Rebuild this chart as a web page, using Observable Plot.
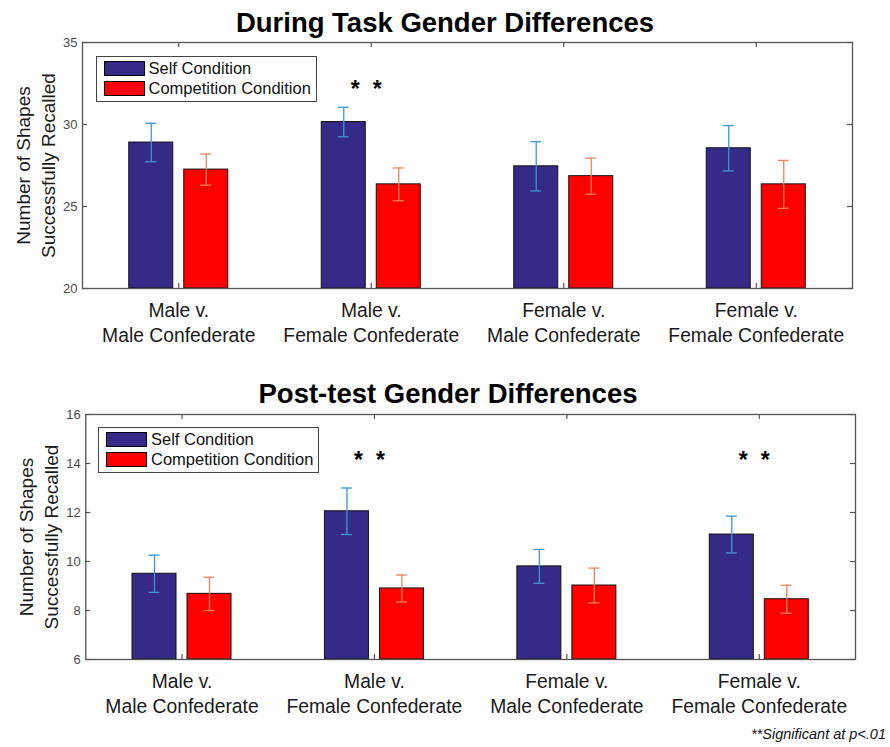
<!DOCTYPE html>
<html><head><meta charset="utf-8">
<script src="https://cdn.jsdelivr.net/npm/d3@7"></script>
<script src="https://cdn.jsdelivr.net/npm/@observablehq/plot@0.6"></script>
<style>
body{margin:0;background:#fff;font-family:"Liberation Sans",Arial,Helvetica,sans-serif;}
#wrap{position:relative;width:890px;height:747px;overflow:hidden;background:#fff}
.panel{position:absolute;left:0;z-index:1}
.title{position:absolute;left:0;width:890px;text-align:center;font-weight:bold;font-size:27.5px;line-height:1;color:#000;white-space:nowrap;z-index:3}
.legend{position:absolute;width:221px;height:46px;border:1px solid #444;background:#fff;box-sizing:border-box;z-index:3}
.item{position:absolute;left:7px;height:15px;font-size:16.5px;line-height:15px;white-space:nowrap;color:#111}
.sw{position:absolute;left:0;top:0;width:41px;height:15px;box-sizing:border-box;border:1px solid #000}
.lab{position:absolute;left:45px;top:0}
.note{position:absolute;right:4px;top:727px;font-style:italic;font-size:14.5px;line-height:1;color:#111;z-index:3}
</style></head>
<body>
<div id="wrap">
  <div id="p1" class="panel" style="top:0px"></div>
  <div id="p2" class="panel" style="top:370px"></div>
  <div class="title" style="top:8.5px;">During Task Gender Differences</div>
  <div class="title" style="top:379.5px;left:3px;">Post-test Gender Differences</div>
  <div class="legend" style="left:95.5px;top:55.5px;">
    <div class="item" style="top:4px;"><div class="sw" id="sw1a"></div><span class="lab" id="l1a"></span></div>
    <div class="item" style="top:24.5px;"><div class="sw" id="sw1b"></div><span class="lab" id="l1b"></span></div>
  </div>
  <div class="legend" style="left:98px;top:426.5px;">
    <div class="item" style="top:4px;"><div class="sw" id="sw2a"></div><span class="lab" id="l2a"></span></div>
    <div class="item" style="top:24.5px;"><div class="sw" id="sw2b"></div><span class="lab" id="l2b"></span></div>
  </div>
  <div class="note">**Significant at p&lt;.01</div>
</div>
<script>
// ---- data ----
const categories = ["Male v.\nMale Confederate", "Male v.\nFemale Confederate", "Female v.\nMale Confederate", "Female v.\nFemale Confederate"];
const seriesNames = ["Self Condition", "Competition Condition"];
const yLabel = "Number of Shapes\nSuccessfully Recalled";

const duringSelf = [28.9, 30.15, 27.45, 28.55];
const duringSelfErr = [1.17, 0.9, 1.5, 1.38];
const duringComp = [27.25, 26.35, 26.85, 26.35];
const duringCompErr = [0.95, 1.0, 1.1, 1.46];
const duringStarCats = [1];
const duringStarLevel = 32.1;
const duringTicks = [20, 25, 30, 35];

const postSelf = [9.5, 12.05, 9.8, 11.1];
const postSelfErr = [0.76, 0.95, 0.69, 0.75];
const postComp = [8.68, 8.9, 9.02, 8.46];
const postCompErr = [0.68, 0.55, 0.71, 0.57];
const postStarCats = [1, 3];
const postStarLevel = 14.1;
const postTicks = [6, 8, 10, 12, 14, 16];

// ---- style ----
const selfColor = "#352A87";
const compColor = "#FF0000";
const selfErrColor = "#3C96D8";
const compErrColor = "#EC835F";
const axisColor = "#555";
const font = "'Liberation Sans', Arial, Helvetica, sans-serif";

for (const k of ["1","2"]) {
  document.getElementById("sw"+k+"a").style.background = selfColor;
  document.getElementById("sw"+k+"b").style.background = compColor;
  document.getElementById("l"+k+"a").textContent = seriesNames[0];
  document.getElementById("l"+k+"b").textContent = seriesNames[1];
}

function panel(cfg) {
  const W = 890;
  const {ml, mr, mt, mb, H, ticks, stars, starLevel} = cfg;
  const ymin = ticks[0], ymax = ticks[ticks.length - 1];
  const fw = W - ml - mr, fh = H - mt - mb;
  const half = fw / categories.length / 2;
  const barOff = 27.5, barHalf = 22, capHalf = 5.5;
  const rows = categories.map((c, i) => ({cat: c, self: cfg.self[i], selfErr: cfg.selfErr[i], comp: cfg.comp[i], compErr: cfg.compErr[i]}));
  const starRows = stars.map(i => ({cat: categories[i], y: starLevel}));
  return Plot.plot({
    width: W, height: H,
    marginLeft: ml, marginRight: mr, marginTop: mt, marginBottom: mb,
    style: {fontFamily: font, background: "white", overflow: "visible"},
    x: {type: "band", domain: categories, padding: 0, round: false, axis: null},
    y: {domain: [ymin, ymax], axis: null},
    marks: [
      Plot.rectY(rows, {x: "cat", y1: ymin, y2: "self", fill: selfColor, stroke: "#111", strokeWidth: 1,
        insetLeft: half - barOff - barHalf, insetRight: half + barOff - barHalf}),
      Plot.rectY(rows, {x: "cat", y1: ymin, y2: "comp", fill: compColor, stroke: "#111", strokeWidth: 1,
        insetLeft: half + barOff - barHalf, insetRight: half - barOff - barHalf}),
      // error bars self
      Plot.ruleX(rows, {x: "cat", y1: d => d.self - d.selfErr, y2: d => d.self + d.selfErr, dx: -barOff, stroke: selfErrColor, strokeWidth: 1.3}),
      Plot.tickY(rows, {x: "cat", y: d => d.self + d.selfErr, stroke: selfErrColor, strokeWidth: 1.3,
        insetLeft: half - barOff - capHalf, insetRight: half + barOff - capHalf}),
      Plot.tickY(rows, {x: "cat", y: d => d.self - d.selfErr, stroke: selfErrColor, strokeWidth: 1.3,
        insetLeft: half - barOff - capHalf, insetRight: half + barOff - capHalf}),
      // error bars comp
      Plot.ruleX(rows, {x: "cat", y1: d => d.comp - d.compErr, y2: d => d.comp + d.compErr, dx: barOff, stroke: compErrColor, strokeWidth: 1.3}),
      Plot.tickY(rows, {x: "cat", y: d => d.comp + d.compErr, stroke: compErrColor, strokeWidth: 1.3,
        insetLeft: half + barOff - capHalf, insetRight: half - barOff - capHalf}),
      Plot.tickY(rows, {x: "cat", y: d => d.comp - d.compErr, stroke: compErrColor, strokeWidth: 1.3,
        insetLeft: half + barOff - capHalf, insetRight: half - barOff - capHalf}),
      // frame and inward ticks
      Plot.frame({stroke: axisColor, strokeWidth: 1.3}),
      Plot.tickY(ticks, {y: d => d, insetRight: fw - 5, stroke: axisColor, strokeWidth: 1.2}),
      Plot.tickY(ticks, {y: d => d, insetLeft: fw - 5, stroke: axisColor, strokeWidth: 1.2}),
      Plot.tickX(categories, {x: d => d, insetTop: fh - 5, stroke: axisColor, strokeWidth: 1.2}),
      Plot.tickX(categories, {x: d => d, insetBottom: fh - 5, stroke: axisColor, strokeWidth: 1.2}),
      // tick labels
      Plot.text(ticks, {y: d => d, text: d => String(d), frameAnchor: "left", textAnchor: "end", dx: -5, fontSize: 13, fill: "#4a4a4a"}),
      Plot.text(categories, {x: d => d, text: d => d, frameAnchor: "bottom", lineAnchor: "top", dy: 11, fontSize: 19.3, lineHeight: 1.3, fill: "#1a1a1a"}),
      // y label
      Plot.text([yLabel], {text: d => d, frameAnchor: "left", textAnchor: "middle", lineAnchor: "middle", rotate: -90, dx: -48.5, fontSize: 19, lineHeight: 1.32, fill: "#1a1a1a"}),
      // significance stars
      Plot.text(starRows, {x: "cat", y: "y", text: () => "*", dx: -16, fontSize: 23, fontWeight: "bold", lineAnchor: "middle", fill: "#000"}),
      Plot.text(starRows, {x: "cat", y: "y", text: () => "*", dx: 6, fontSize: 23, fontWeight: "bold", lineAnchor: "middle", fill: "#000"})
    ]
  });
}

document.getElementById("p1").appendChild(panel({
  self: duringSelf, selfErr: duringSelfErr, comp: duringComp, compErr: duringCompErr,
  stars: duringStarCats, starLevel: duringStarLevel, ticks: duringTicks,
  ml: 82, mr: 38, mt: 42, mb: 82, H: 370
}));
document.getElementById("p2").appendChild(panel({
  self: postSelf, selfErr: postSelfErr, comp: postComp, compErr: postCompErr,
  stars: postStarCats, starLevel: postStarLevel, ticks: postTicks,
  ml: 85.3, mr: 35, mt: 44, mb: 61, H: 350
}));
</script>
</body></html>
